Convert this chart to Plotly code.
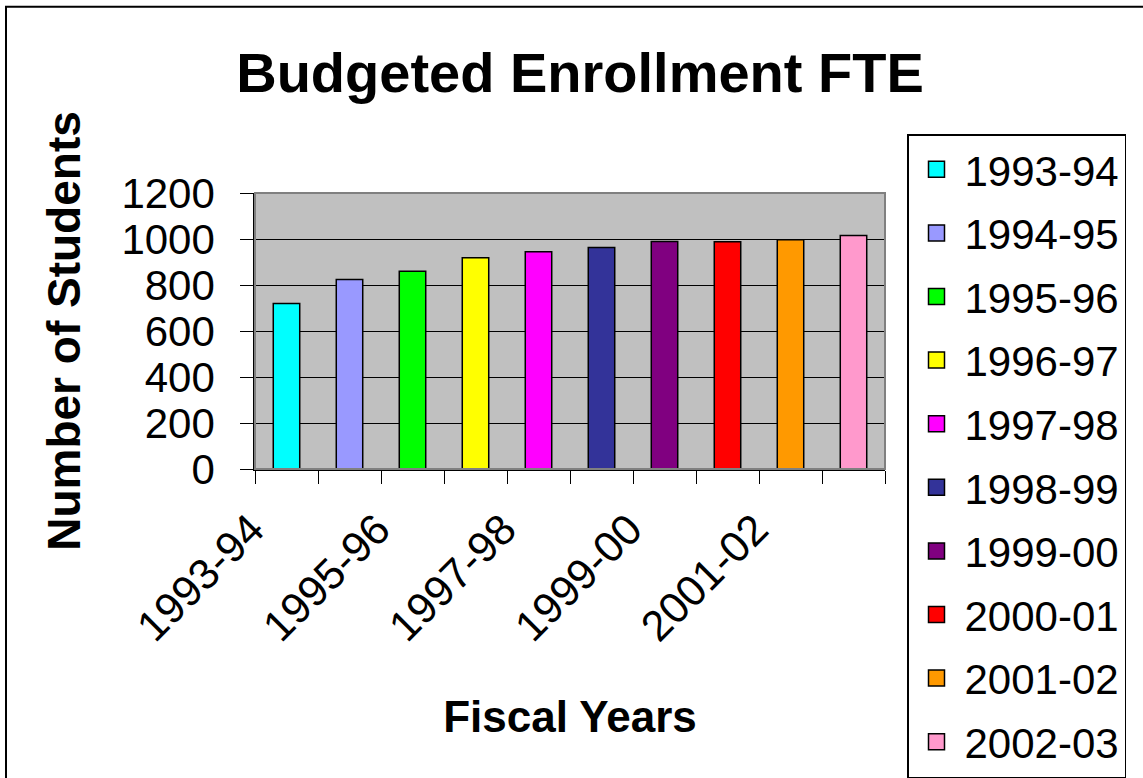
import plotly.graph_objects as go

categories = ["1993-94", "1994-95", "1995-96", "1996-97", "1997-98",
              "1998-99", "1999-00", "2000-01", "2001-02", "2002-03"]
values = [720, 824, 860, 919, 945, 963, 989, 988, 997, 1015]
colors = ["#00FFFF", "#9999FF", "#00FF00", "#FFFF00", "#FF00FF",
          "#333399", "#800080", "#FF0000", "#FF9900", "#FF99CC"]
tick_text = [c if i % 2 == 0 else "" for i, c in enumerate(categories)]
y_ticks = [0, 200, 400, 600, 800, 1000, 1200]

FONT = "Arial, Liberation Sans, Helvetica, sans-serif"

fig = go.Figure()
for cat, val, col in zip(categories, values, colors):
    fig.add_trace(go.Bar(
        x=[cat], y=[val], name=cat, width=0.42,
        marker=dict(color=col, line=dict(color="black", width=1.5)),
        showlegend=False,
    ))
    fig.add_trace(go.Scatter(
        x=[None], y=[None], mode="markers", name=cat, legendgroup=cat,
        marker=dict(symbol="square", size=30, color=col,
                    line=dict(color="black", width=1.5)),
    ))

fig.update_layout(
    width=1143, height=778,
    margin=dict(l=255, r=258, t=193, b=309),
    paper_bgcolor="white",
    plot_bgcolor="#C0C0C0",
    barmode="overlay",
    font=dict(family=FONT, color="black"),
    title=dict(text="<b>Budgeted Enrollment FTE</b>",
               font=dict(size=56, family=FONT, color="black"),
               x=580 / 1143, xanchor="center", xref="container",
               y=1 - 72 / 778, yanchor="middle", yref="container"),
    legend=dict(
        x=(907 - 255) / 630, xanchor="left",
        y=(468.7 - 135) / 275.7, yanchor="top",
        font=dict(size=42, family=FONT, color="black"),
        bordercolor="black", borderwidth=1.5, bgcolor="white",
        traceorder="grouped", tracegroupgap=6,
        itemwidth=46, maxheight=720,
    ),
    xaxis=dict(
        type="category", categoryorder="array", categoryarray=categories,
        tickvals=categories, ticktext=tick_text,
        tickson="boundaries", ticks="outside", ticklen=13, tickcolor="black",
        tickangle=-45, tickfont=dict(size=43, family=FONT, color="black"),
        ticklabelshift=-35, ticklabelstandoff=16,
        showgrid=False, showline=True, linecolor="black", linewidth=1.5,
        range=[-0.5, 9.5],
        title=dict(text="<b>Fiscal Years</b>", standoff=52,
                   font=dict(size=44, family=FONT, color="black")),
    ),
    yaxis=dict(
        range=[0, 1200], tickvals=y_ticks,
        ticks="outside", ticklen=13, tickcolor="black",
        tickfont=dict(size=42, family=FONT, color="black"),
        ticklabelstandoff=17,
        showgrid=True, gridcolor="black", gridwidth=1,
        showline=True, linecolor="black", linewidth=1.5, zeroline=False,
        title=dict(text="<b>Number of Students</b>", standoff=26,
                   font=dict(size=46, family=FONT, color="black")),
    ),
    shapes=[
        dict(type="rect", xref="paper", yref="paper", x0=0, x1=1, y0=0, y1=1,
             line=dict(color="#808080", width=2), layer="above"),
        dict(type="rect", xref="paper", yref="paper",
             x0=(6 - 255) / 630, x1=(1160 - 255) / 630,
             y0=(468.7 - 800) / 275.7, y1=(468.7 - 7) / 275.7,
             line=dict(color="black", width=2), layer="below"),
    ],
)

fig.write_html("out.html",
               config={"displayModeBar": False},
               post_script="document.body.style.margin='0';")
